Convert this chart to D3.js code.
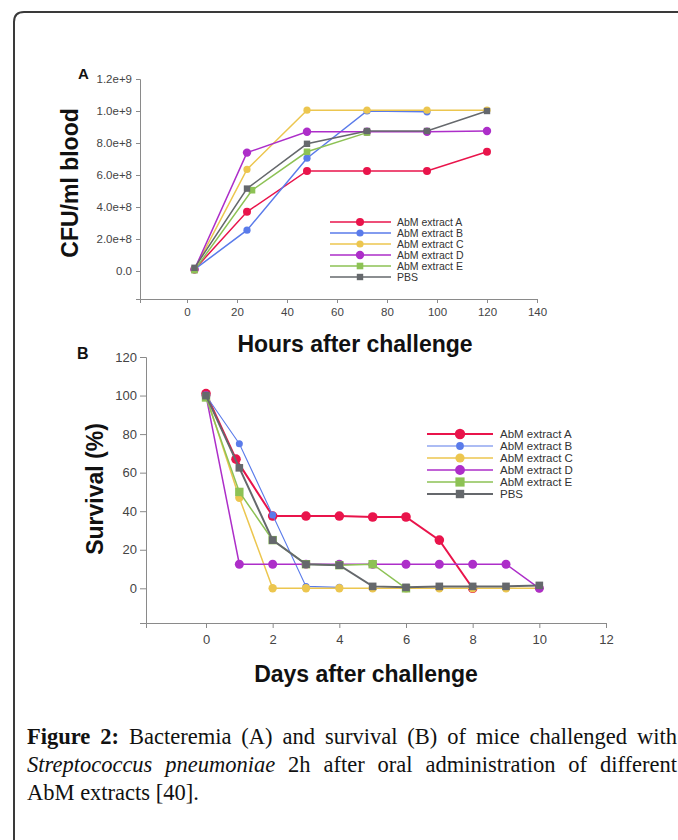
<!DOCTYPE html>
<html>
<head>
<meta charset="utf-8">
<script src="https://cdn.jsdelivr.net/npm/d3@7"></script>
<style>
  body { margin: 0; background: #fff; }
  #figure { position: relative; width: 678px; height: 840px; overflow: hidden; }
  #figure svg { position: absolute; left: 0; top: 0; }
  .caption { position: absolute; left: 27px; top: 723px; width: 650px;
    font-family: "Liberation Serif", serif; font-size: 22.5px; line-height: 28px; color: #111; }
  .caption div { white-space: nowrap; }
  .caption .just { text-align: justify; text-align-last: justify; }
</style>
</head>
<body>
<div id="figure"></div>
<script>
// ___________________________Data_______________________________
const seriesNames = ["AbM extract A", "AbM extract B", "AbM extract C", "AbM extract D", "AbM extract E", "PBS"];

// Panel A: bacteremia (CFU/ml blood) vs hours after challenge
const hoursA = [3, 24, 48, 72, 96, 120];
const hoursB = [3, 24, 48, 72, 96];
const hoursE = [3, 26, 48, 72];
const cfuExtractA = [0.1e8, 3.7e8, 6.25e8, 6.25e8, 6.25e8, 7.45e8];
const cfuExtractB = [0.1e8, 2.55e8, 7.05e8, 10.0e8, 9.95e8];
const cfuExtractC = [0.1e8, 6.35e8, 10.05e8, 10.05e8, 10.05e8, 10.05e8];
const cfuExtractD = [0.1e8, 7.4e8, 8.7e8, 8.7e8, 8.7e8, 8.75e8];
const cfuExtractE = [0.05e8, 5.05e8, 7.45e8, 8.65e8];
const cfuPBS = [0.2e8, 5.15e8, 7.95e8, 8.75e8, 8.75e8, 10.0e8];
const yTicksA = [0, 2e8, 4e8, 6e8, 8e8, 10e8, 12e8];
const yTickLabelsA = ["0.0", "2.0e+8", "4.0e+8", "6.0e+8", "8.0e+8", "1.0e+9", "1.2e+9"];
const xTicksA = [0, 20, 40, 60, 80, 100, 120, 140];

// Panel B: survival (%) vs days after challenge
const daysRed = [0, 0.9, 2, 3, 4, 5, 6, 7, 8];
const days = [0, 1, 2, 3, 4, 5, 6, 7, 8, 9, 10];
const survExtractA = [101, 67, 37.5, 37.5, 37.5, 37, 37, 25, 0];
const survExtractB = [100, 75, 38, 1, 0.5];
const survExtractC = [100, 47, 0, 0, 0, 0, 0, 0, 0, 0, 0];
const survExtractD = [100, 12.5, 12.5, 12.5, 12.5, 12.5, 12.5, 12.5, 12.5, 12.5, 0];
const survExtractE = [99, 50, 25, 12.5, 12, 12.5, 0];
const survPBS = [100, 62.5, 25, 12.5, 12, 1, 0.5, 1, 1, 1, 1.5];
const yTicksB = [0, 20, 40, 60, 80, 100, 120];
const xTicksB = [0, 2, 4, 6, 8, 10, 12];

// colours and marker styles per series
const colors = ["#e9144b", "#5a7bea", "#ecc64f", "#ad2ec9", "#8dc255", "#65686c"];
const shapes = ["circle", "circle", "circle", "circle", "square", "square"];

const font = "'Liberation Sans', Arial, sans-serif";

const svg = d3.select("#figure")
    .append("svg")
    .attr("width", 678)
    .attr("height", 840);

// Rounded frame, open to the right and bottom
svg.append("path")
    .attr("d", "M14,850 L14,22 Q14,12 24,12 L690,12")
    .attr("fill", "none")
    .attr("stroke", "#3a3a3a")
    .attr("stroke-width", 2);

function drawMarker(g, shape, x, y, size, color) {
    if (shape === "circle") {
        g.append("circle")
            .attr("cx", x).attr("cy", y).attr("r", size)
            .attr("fill", color);
    } else {
        g.append("rect")
            .attr("x", x - size).attr("y", y - size)
            .attr("width", size * 2).attr("height", size * 2)
            .attr("fill", color);
    }
}

function styleAxis(g, fontSize) {
    g.select(".domain").attr("stroke", "#8a8a8a");
    g.selectAll(".tick line").attr("stroke", "#8a8a8a");
    g.selectAll(".tick text")
        .attr("fill", "#444")
        .style("font-family", font)
        .style("font-size", fontSize + "px");
}

// ___________________________Panel A_______________________________
const xA = d3.scaleLinear().domain([-18.8, 140]).range([140, 537]);
const yA = d3.scaleLinear().domain([-1.75e8, 1.2e9]).range([299, 79]);

svg.append("g")
    .attr("transform", "translate(0,299)")
    .call(d3.axisBottom(xA).tickValues(xTicksA).tickSizeOuter(0).tickSize(4).tickPadding(5))
    .call(g => styleAxis(g, 11.5));

svg.append("g")
    .attr("transform", "translate(140,0)")
    .call(d3.axisLeft(yA).tickValues(yTicksA).tickSizeOuter(0).tickSize(4).tickPadding(4)
        .tickFormat((d, i) => yTickLabelsA[i]))
    .call(g => styleAxis(g, 11.5));

const panelA = [
    { x: hoursA, y: cfuExtractA, size: 4, width: 1.5 },
    { x: hoursB, y: cfuExtractB, size: 3.6, width: 1.5 },
    { x: hoursA, y: cfuExtractC, size: 3.6, width: 1.5 },
    { x: hoursA, y: cfuExtractD, size: 4.2, width: 1.5 },
    { x: hoursE, y: cfuExtractE, size: 3.3, width: 1.5 },
    { x: hoursA, y: cfuPBS, size: 3.2, width: 1.5 }
];

const lineA = d3.line().x(d => xA(d[0])).y(d => yA(d[1]));

panelA.forEach((s, i) => {
    const pts = s.x.map((h, j) => [h, s.y[j]]);
    const g = svg.append("g");
    g.append("path")
        .datum(pts)
        .attr("d", lineA)
        .attr("fill", "none")
        .attr("stroke", colors[i])
        .attr("stroke-width", s.width);
    pts.forEach(p => drawMarker(g, shapes[i], xA(p[0]), yA(p[1]), s.size, colors[i]));
});

// Legend A
const legendA = svg.append("g").attr("transform", "translate(330,222)");
seriesNames.forEach((name, i) => {
    const g = legendA.append("g").attr("transform", "translate(0," + (i * 11) + ")");
    g.append("line")
        .attr("x1", 0).attr("x2", 61).attr("y1", 0).attr("y2", 0)
        .attr("stroke", colors[i]).attr("stroke-width", 1.5);
    drawMarker(g, shapes[i], 30, 0, panelA[i].size, colors[i]);
    g.append("text")
        .attr("x", 67).attr("y", 0).attr("dy", "0.35em")
        .attr("fill", "#333")
        .style("font-family", font).style("font-size", "10.5px")
        .text(name);
});

// Titles A
svg.append("text")
    .attr("x", 78).attr("y", 79)
    .style("font-family", font).style("font-weight", "bold").style("font-size", "15px")
    .attr("fill", "#111")
    .text("A");

svg.append("text")
    .attr("transform", "translate(78,183) rotate(-90)")
    .attr("text-anchor", "middle")
    .style("font-family", font).style("font-weight", "bold").style("font-size", "23px")
    .attr("fill", "#111")
    .text("CFU/ml blood");

svg.append("text")
    .attr("x", 355).attr("y", 352)
    .attr("text-anchor", "middle")
    .style("font-family", font).style("font-weight", "bold").style("font-size", "23px")
    .attr("fill", "#111")
    .text("Hours after challenge");

// ___________________________Panel B_______________________________
const xB = d3.scaleLinear().domain([-1.8, 12]).range([146, 606]);
const yB = d3.scaleLinear().domain([-18, 120]).range([623, 357]);

svg.append("g")
    .attr("transform", "translate(0,623)")
    .call(d3.axisBottom(xB).tickValues(xTicksB).tickSizeOuter(0).tickSize(5).tickPadding(7))
    .call(g => styleAxis(g, 13));

svg.append("g")
    .attr("transform", "translate(146,0)")
    .call(d3.axisLeft(yB).tickValues(yTicksB).tickSizeOuter(0).tickSize(6).tickPadding(3))
    .call(g => styleAxis(g, 13));

const panelB = [
    { x: daysRed, y: survExtractA, size: 4.8, width: 2 },
    { x: days, y: survExtractB, size: 3.5, width: 1.1 },
    { x: days, y: survExtractC, size: 4.2, width: 1.5 },
    { x: days, y: survExtractD, size: 4.5, width: 1.5 },
    { x: days, y: survExtractE, size: 4.2, width: 1.5 },
    { x: days, y: survPBS, size: 3.8, width: 2 }
];

const lineB = d3.line().x(d => xB(d[0])).y(d => yB(d[1]));

panelB.forEach((s, i) => {
    const pts = s.y.map((v, j) => [s.x[j], v]);
    const g = svg.append("g");
    g.append("path")
        .datum(pts)
        .attr("d", lineB)
        .attr("fill", "none")
        .attr("stroke", colors[i])
        .attr("stroke-width", s.width);
    pts.forEach(p => drawMarker(g, shapes[i], xB(p[0]), yB(p[1]), s.size, colors[i]));
});

// Legend B
const legendB = svg.append("g").attr("transform", "translate(427,434)");
seriesNames.forEach((name, i) => {
    const g = legendB.append("g").attr("transform", "translate(0," + (i * 12) + ")");
    g.append("line")
        .attr("x1", 0).attr("x2", 66).attr("y1", 0).attr("y2", 0)
        .attr("stroke", colors[i]).attr("stroke-width", panelB[i].width);
    drawMarker(g, shapes[i], 33, 0, panelB[i].size + 0.4, colors[i]);
    g.append("text")
        .attr("x", 73).attr("y", 0).attr("dy", "0.35em")
        .attr("fill", "#333")
        .style("font-family", font).style("font-size", "11.5px")
        .text(name);
});

// Titles B
svg.append("text")
    .attr("x", 77).attr("y", 359)
    .style("font-family", font).style("font-weight", "bold").style("font-size", "16px")
    .attr("fill", "#111")
    .text("B");

svg.append("text")
    .attr("transform", "translate(103,489) rotate(-90)")
    .attr("text-anchor", "middle")
    .style("font-family", font).style("font-weight", "bold").style("font-size", "23px")
    .attr("fill", "#111")
    .text("Survival (%)");

svg.append("text")
    .attr("x", 366).attr("y", 682)
    .attr("text-anchor", "middle")
    .style("font-family", font).style("font-weight", "bold").style("font-size", "23px")
    .attr("fill", "#111")
    .text("Days after challenge");

// ___________________________Caption_______________________________
const caption = d3.select("#figure").append("div").attr("class", "caption");
caption.append("div").attr("class", "just")
    .html("<b>Figure 2:</b> Bacteremia (A) and survival (B) of mice challenged with");
caption.append("div").attr("class", "just")
    .html("<i>Streptococcus pneumoniae</i> 2h after oral administration of different");
caption.append("div")
    .text("AbM extracts [40].");
</script>
</body>
</html>
